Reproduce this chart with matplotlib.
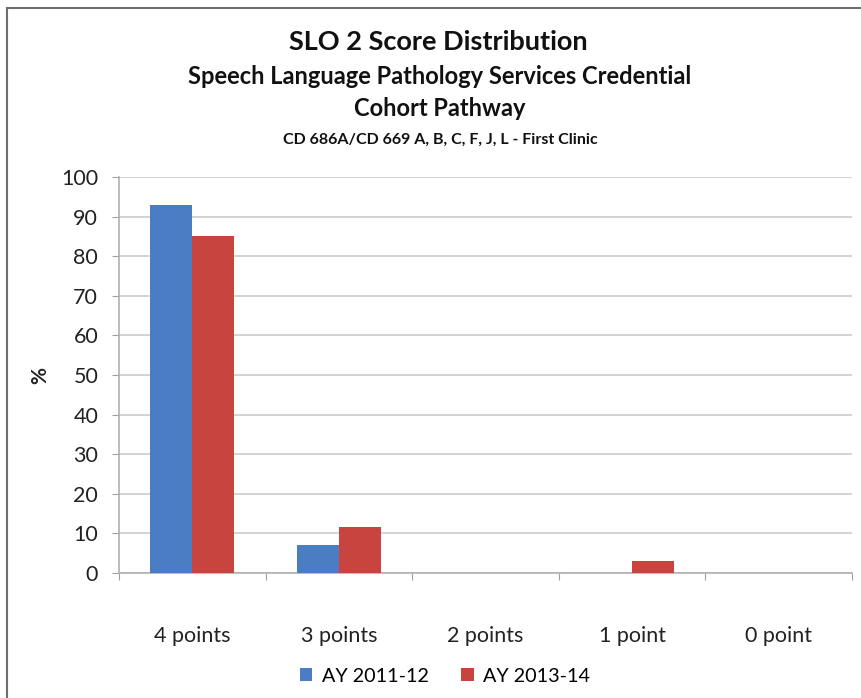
import matplotlib
matplotlib.use('Agg')
import matplotlib.pyplot as plt
import numpy as np
from matplotlib.patches import Rectangle

categories = ["4 points", "3 points", "2 points", "1 point", "0 point"]
series_names = ["AY 2011-12", "AY 2013-14"]
ay_2011_12 = [93, 7, 0, 0, 0]
ay_2013_14 = [85, 11.7, 0, 3, 0]
y_ticks = list(range(0, 101, 10))

plt.rcParams['font.family'] = ['Lato', 'DejaVu Sans']

W, H = 861, 698
fig = plt.figure(figsize=(W / 100, H / 100), dpi=100)
fig.patch.set_facecolor('white')

# outer chart border (only left/top visible, picture is cropped)
fig.add_artist(Rectangle((7 / W, -0.1), 1.2, (H - 8) / H + 0.1, transform=fig.transFigure,
                         fill=False, edgecolor='#6e6e6e', linewidth=1.5))

ax = fig.add_axes([119 / W, 1 - 573 / H, (852 - 119) / W, (573 - 177) / H])
x = np.arange(len(categories))
bw = 0.286
colors = ["#4A7DC4", "#C8453F"]
ax.bar(x - bw / 2, ay_2011_12, bw, color=colors[0], label=series_names[0], zorder=3)
ax.bar(x + bw / 2, ay_2013_14, bw, color=colors[1], label=series_names[1], zorder=3)

ax.set_xlim(-0.5, len(categories) - 0.5)
ax.set_ylim(0, 100)
ax.set_yticks(y_ticks)
ax.tick_params(axis='y', labelsize=15.5, colors='#a0a0a0', labelcolor='#222222', length=5, pad=10)
ax.set_xticks(np.arange(len(categories) + 1) - 0.5)
ax.set_xticklabels([])
ax.set_xticks(x, minor=True)
ax.set_xticklabels(categories, minor=True, fontsize=15.5, color='#222222')
ax.tick_params(axis='x', which='major', length=5, colors='#a0a0a0')
ax.tick_params(axis='x', which='minor', length=0, pad=38)
ax.grid(axis='y', color='#cccccc', linewidth=1.2, zorder=0)
for s in ['top', 'right']:
    ax.spines[s].set_visible(False)
for s in ['left', 'bottom']:
    ax.spines[s].set_color('#b0b0b0')
    ax.spines[s].set_linewidth(1.2)

fig.text(40 / W, 1 - 375 / H, "%", rotation=90, fontsize=15, fontweight='bold',
         ha='center', va='center', color='#222222')

fig.text(438 / W, 1 - 42 / H, "SLO 2 Score Distribution", fontsize=19.5, fontweight='bold',
         ha='center', va='center', color='#111111')
fig.text(440 / W, 1 - 77 / H, "Speech Language Pathology Services Credential", fontsize=17,
         fontweight='bold', ha='center', va='center', color='#111111')
fig.text(440 / W, 1 - 108 / H, "Cohort Pathway", fontsize=17, fontweight='bold',
         ha='center', va='center', color='#111111')
fig.text(440 / W, 1 - 140 / H, "CD 686A/CD 669 A, B, C, F, J, L - First Clinic", fontsize=11.5,
         fontweight='bold', ha='center', va='center', color='#111111')

fig.legend(loc='center', bbox_to_anchor=(445 / W, 1 - 676 / H), ncol=2, frameon=False,
           fontsize=14.2, handlelength=0.65, handleheight=0.65, handletextpad=0.5,
           columnspacing=1.6)

fig.savefig('out.png', dpi=100, facecolor='white')
